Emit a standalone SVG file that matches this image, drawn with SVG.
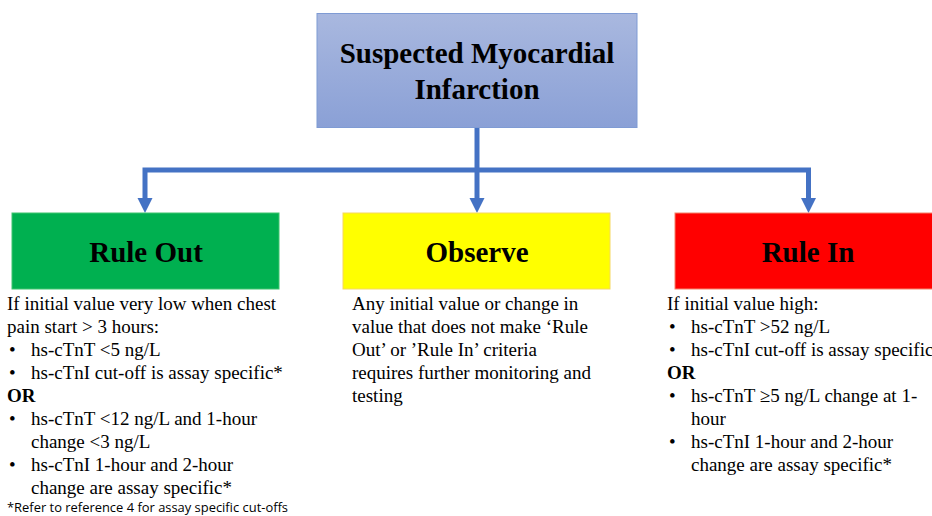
<svg xmlns="http://www.w3.org/2000/svg" width="932" height="516" viewBox="0 0 932 516">
<defs>
<linearGradient id="topg" x1="0" y1="0" x2="0" y2="1">
<stop offset="0" stop-color="#a9b8df"/>
<stop offset="1" stop-color="#8aa0d6"/>
</linearGradient>
</defs>
<style>
.h{font-family:"Liberation Serif","Times New Roman",serif;font-weight:bold;font-size:29px;fill:#000;text-anchor:middle}
.b{font-family:"Liberation Serif","Times New Roman",serif;font-size:19px;fill:#000}
.bb{font-family:"Liberation Serif","Times New Roman",serif;font-size:19px;font-weight:bold;fill:#000}
.fn{font-family:"Open Sans","Liberation Sans",sans-serif;font-size:13px;fill:#000}
.c{fill:none;stroke:#4472c4;stroke-width:5}
.ah{fill:#4472c4}
</style>
<rect width="932" height="516" fill="#fff"/>
<g id="connectors">
<line class="c" x1="477" y1="127" x2="477" y2="200"/>
<polyline class="c" points="145,200 145,170 808.5,170 808.5,200"/>
<path class="ah" d="M137.5,198 L152.5,198 L145,213 Z"/>
<path class="ah" d="M469.5,198 L484.5,198 L477,213 Z"/>
<path class="ah" d="M801,198 L816,198 L808.5,213 Z"/>
</g>
<g id="suspected">
<rect x="317" y="13.5" width="320" height="114" fill="url(#topg)" stroke="#7f9bd4" stroke-width="1"/>
<text class="h" x="477" y="63">Suspected Myocardial</text>
<text class="h" x="477" y="99">Infarction</text>
</g>
<g id="ruleout">
<rect x="12" y="213" width="267" height="76" fill="#00b050" stroke="#3fc46f" stroke-width="1"/>
<text class="h" x="146" y="262">Rule Out</text>
<text class="b" x="7" y="310">If initial value very low when chest</text>
<text class="b" x="7" y="333">pain start &gt; 3 hours:</text>
<text class="b" x="9" y="356">•</text><text class="b" x="31" y="356">hs-cTnT &lt;5 ng/L</text>
<text class="b" x="9" y="379">•</text><text class="b" x="31" y="379">hs-cTnI cut-off is assay specific*</text>
<text class="bb" x="7" y="402">OR</text>
<text class="b" x="9" y="425">•</text><text class="b" x="31" y="425">hs-cTnT &lt;12 ng/L and 1-hour</text>
<text class="b" x="31" y="448">change &lt;3 ng/L</text>
<text class="b" x="9" y="471">•</text><text class="b" x="31" y="471">hs-cTnI 1-hour and 2-hour</text>
<text class="b" x="31" y="494">change are assay specific*</text>
<text class="fn" x="7" y="512" textLength="281" lengthAdjust="spacingAndGlyphs">*Refer to reference 4 for assay specific cut-offs</text>
</g>
<g id="observe">
<rect x="343" y="213" width="267" height="76" fill="#ffff00" stroke="#f5d860" stroke-width="1"/>
<text class="h" x="477" y="262">Observe</text>
<text class="b" x="352" y="310">Any initial value or change in</text>
<text class="b" x="352" y="333">value that does not make ‘Rule</text>
<text class="b" x="352" y="356">Out’ or ’Rule In’ criteria</text>
<text class="b" x="352" y="379">requires further monitoring and</text>
<text class="b" x="352" y="402">testing</text>
</g>
<g id="rulein">
<rect x="675" y="213" width="267" height="76" fill="#ff0000" stroke="#f4826a" stroke-width="1"/>
<text class="h" x="808" y="262">Rule In</text>
<text class="b" x="667" y="310">If initial value high:</text>
<text class="b" x="669" y="333">•</text><text class="b" x="691" y="333">hs-cTnT &gt;52 ng/L</text>
<text class="b" x="669" y="356">•</text><text class="b" x="691" y="356">hs-cTnI cut-off is assay specific*</text>
<text class="bb" x="667" y="379">OR</text>
<text class="b" x="669" y="402">•</text><text class="b" x="691" y="402">hs-cTnT ≥5 ng/L change at 1-</text>
<text class="b" x="691" y="425">hour</text>
<text class="b" x="669" y="448">•</text><text class="b" x="691" y="448">hs-cTnI 1-hour and 2-hour</text>
<text class="b" x="691" y="471">change are assay specific*</text>
</g>
</svg>
